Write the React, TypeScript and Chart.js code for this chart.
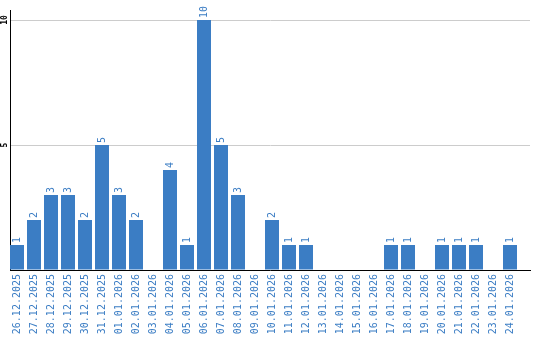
import React, { useEffect, useRef } from "react";
import { Chart, registerables } from "chart.js";

Chart.register(...registerables);

const categories = [
  "26.12.2025", "27.12.2025", "28.12.2025", "29.12.2025", "30.12.2025", "31.12.2025",
  "01.01.2026", "02.01.2026", "03.01.2026", "04.01.2026", "05.01.2026", "06.01.2026",
  "07.01.2026", "08.01.2026", "09.01.2026", "10.01.2026", "11.01.2026", "12.01.2026",
  "13.01.2026", "14.01.2026", "15.01.2026", "16.01.2026", "17.01.2026", "18.01.2026",
  "19.01.2026", "20.01.2026", "21.01.2026", "22.01.2026", "23.01.2026", "24.01.2026",
];
const values = [1, 2, 3, 3, 2, 5, 3, 2, 0, 4, 1, 10, 5, 3, 0, 2, 1, 1, 0, 0, 0, 0, 1, 1, 0, 1, 1, 1, 0, 1];
const yTicks = [0, 5, 10];

const BLUE = "#3b7dc4";
const FONT = "'DejaVu Sans Mono', monospace";

const labelPlugin = {
  id: "barLabels",
  afterDatasetsDraw(chart: any) {
    const ctx = chart.ctx;
    const meta = chart.getDatasetMeta(0);
    ctx.save();
    ctx.fillStyle = BLUE;
    ctx.font = `10px ${FONT}`;
    ctx.textAlign = "left";
    ctx.textBaseline = "middle";
    meta.data.forEach((bar: any, i: number) => {
      const v = values[i];
      if (!v) return;
      ctx.save();
      ctx.translate(bar.x, bar.y - 2);
      ctx.rotate(-Math.PI / 2);
      ctx.fillText(String(v), 0, 0);
      ctx.restore();
    });
    const ys = chart.scales.y;
    ctx.fillStyle = "#000";
    ctx.font = `bold 8px ${FONT}`;
    ctx.textAlign = "center";
    yTicks.forEach((t) => {
      if (t === 0) return;
      const py = ys.getPixelForValue(t);
      ctx.save();
      ctx.translate(5, py);
      ctx.rotate(-Math.PI / 2);
      ctx.fillText(String(t), 0, 0);
      ctx.restore();
    });
    ctx.restore();
  },
};

export default function App() {
  const ref = useRef<HTMLCanvasElement>(null);
  useEffect(() => {
    if (!ref.current) return;
    const xMin = -7 / 17;
    const xMax = xMin + 520 / 17;
    const chart = new Chart(ref.current, {
      type: "bar",
      data: {
        datasets: [
          {
            data: values.map((v, i) => ({ x: i, y: v })),
            backgroundColor: BLUE,
            borderWidth: 0,
            barPercentage: 14 / 17,
            categoryPercentage: 1,
          },
        ],
      },
      options: {
        animation: false,
        responsive: false,
        maintainAspectRatio: false,
        layout: { padding: { top: 10, right: 10, left: 0, bottom: 0 } },
        plugins: { legend: { display: false }, tooltip: { enabled: false } },
        scales: {
          x: {
            type: "linear",
            offset: false,
            min: xMin,
            max: xMax,
            afterBuildTicks: (s: any) => {
              s.ticks = categories.map((_, i) => ({ value: i }));
            },
            afterFit: (s: any) => {
              s.height = 70;
            },
            grid: { display: false, drawTicks: false },
            border: { display: true, color: "#000", width: 1 },
            ticks: {
              autoSkip: false,
              minRotation: 90,
              maxRotation: 90,
              padding: 4,
              color: BLUE,
              font: { family: FONT, size: 10 },
              callback: (v: any) => categories[Math.round(Number(v))] ?? "",
            },
          },
          y: {
            min: 0,
            max: 10.4,
            afterBuildTicks: (s: any) => {
              s.ticks = yTicks.map((v) => ({ value: v }));
            },
            afterFit: (s: any) => {
              s.width = 10;
            },
            grid: { color: "#cccccc", lineWidth: 1, drawTicks: false },
            border: { display: true, color: "#000", width: 1 },
            ticks: { display: false },
          },
        },
      },
      plugins: [labelPlugin],
    });
    return () => chart.destroy();
  }, []);
  return (
    <div style={{ position: "absolute", left: 0, top: 0, width: 540, height: 340, background: "#fff" }}>
      <canvas ref={ref} width={540} height={340} style={{ width: 540, height: 340 }} />
    </div>
  );
}
